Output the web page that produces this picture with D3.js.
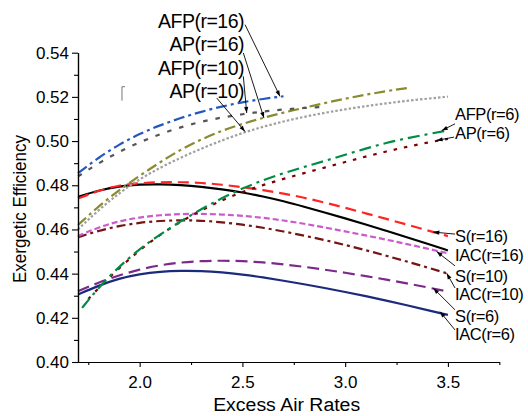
<!DOCTYPE html>
<html><head><meta charset="utf-8">
<script src="https://cdn.jsdelivr.net/npm/d3@7"></script>
<style>body{margin:0;background:#fff}svg{display:block}text{font-family:"Liberation Sans",Arial,sans-serif;fill:#000}</style>
</head><body><svg id="c" width="528" height="416"></svg>
<script>
// ---- data ----
const xTo27 = [1.7,1.8,1.9,2.0,2.1,2.2,2.3,2.4,2.5,2.6,2.7];
const xTo29 = [1.7,1.8,1.9,2.0,2.1,2.2,2.3,2.4,2.5,2.6,2.7,2.8,2.9];
const xTo33 = [1.7,1.8,1.9,2.0,2.1,2.2,2.3,2.4,2.5,2.6,2.7,2.8,2.9,3.0,3.1,3.2,3.3];
const xTo35 = [1.7,1.8,1.9,2.0,2.1,2.2,2.3,2.4,2.5,2.6,2.7,2.8,2.9,3.0,3.1,3.2,3.3,3.4,3.5];
const xAFP6 = [1.72,1.8,1.9,2.0,2.1,2.2,2.3,2.4,2.5,2.6,2.7,2.8,2.9,3.0,3.1,3.2,3.3,3.4,3.5];
const xAP6  = [1.75,1.8,1.9,2.0,2.1,2.2,2.3,2.4,2.5,2.6,2.7,2.8,2.9,3.0,3.1,3.2,3.3,3.4,3.5];

const afp16 = [0.4855,0.4925,0.4985,0.5033,0.5072,0.5105,0.5133,0.5157,0.5176,0.5191,0.5203];
const ap16  = [0.484,0.490,0.4952,0.4995,0.5032,0.5063,0.5088,0.5107,0.5122,0.5134,0.5143,0.5150,0.5155];
const afp10 = [0.462,0.4705,0.4778,0.4843,0.4905,0.4962,0.5008,0.5047,0.5078,0.5105,0.5129,0.5151,0.5172,0.5192,0.5210,0.5226,0.5240];
const ap10  = [0.460,0.4688,0.4765,0.4828,0.4880,0.4925,0.4966,0.5003,0.5037,0.5065,0.5089,0.5110,0.5128,0.5144,0.5158,0.5171,0.5182,0.5192,0.5201];
const afp6  = [0.4245,0.4337,0.4432,0.4512,0.4578,0.4637,0.4692,0.4742,0.4786,0.4823,0.4855,0.4883,0.4910,0.4938,0.4966,0.4992,0.5013,0.5031,0.5048];
const ap6   = [0.4285,0.4335,0.4425,0.4507,0.4577,0.4636,0.4687,0.4732,0.4770,0.4801,0.4829,0.4855,0.4880,0.4905,0.4930,0.4953,0.4974,0.4993,0.5010];
const s16   = [0.474,0.4776,0.4800,0.4810,0.4814,0.4814,0.4811,0.4803,0.4791,0.4778,0.4763,0.4744,0.4722,0.4698,0.4673,0.4648,0.4622,0.4596,0.4570];
const iac16 = [0.4748,0.4777,0.4796,0.4804,0.4805,0.4801,0.4793,0.4782,0.4768,0.4750,0.4728,0.4703,0.4677,0.4650,0.4623,0.4594,0.4565,0.4535,0.4505];
const s10   = [0.457,0.4610,0.4638,0.4655,0.4665,0.4670,0.4671,0.4668,0.4662,0.4653,0.4641,0.4626,0.4609,0.4591,0.4573,0.4554,0.4534,0.4513,0.4492];
const iac10 = [0.4565,0.4594,0.4616,0.4631,0.4639,0.4642,0.4640,0.4633,0.4622,0.4608,0.4591,0.4572,0.4552,0.4530,0.4506,0.4481,0.4455,0.4428,0.4400];
const s6    = [0.432,0.4360,0.4393,0.4419,0.4439,0.4451,0.4457,0.4459,0.4457,0.4451,0.4442,0.4431,0.4418,0.4404,0.4389,0.4373,0.4356,0.4338,0.4319];
const iac6  = [0.4305,0.4346,0.4378,0.4398,0.4409,0.4413,0.4412,0.4406,0.4396,0.4383,0.4368,0.4352,0.4335,0.4317,0.4298,0.4278,0.4257,0.4235,0.4213];

const xTicks = [2.0,2.5,3.0,3.5];
const xMinor = [1.75,2.25,2.75,3.25,3.75];
const yTicks = [0.40,0.42,0.44,0.46,0.48,0.50,0.52,0.54];
const yMinor = [0.41,0.43,0.45,0.47,0.49,0.51,0.53];

// ---- layout ----
const W = 528, H = 416;
const M = {left:78, right:28.7, top:52.7, bottom:54};
const svg = d3.select('#c');
const x = d3.scaleLinear().domain([1.7,3.75]).range([M.left, W-M.right]);
const y = d3.scaleLinear().domain([0.40,0.54]).range([H-M.bottom, M.top]);

const series = [
  {xs:xTo35, ys:iac6,  color:'#1b2a7c', dash:null},
  {xs:xTo35, ys:s6,    color:'#7b2a8a', dash:'12,6'},
  {xs:xTo35, ys:iac10, color:'#741414', dash:'9,4,3,4'},
  {xs:xTo35, ys:s10,   color:'#cc5acc', dash:'6,3'},
  {xs:xTo35, ys:iac16, color:'#000000', dash:null},
  {xs:xTo35, ys:s16,   color:'#ff2424', dash:'11,6'},
  {xs:xAP6,  ys:ap6,   color:'#800000', dash:'3.5,7'},
  {xs:xAFP6, ys:afp6,  color:'#008c45', dash:'12,5,3,5'},
  {xs:xTo35, ys:ap10,  color:'#a0a0a0', dash:'2.5,2'},
  {xs:xTo33, ys:afp10, color:'#8a8a2e', dash:'11,4,3,4'},
  {xs:xTo29, ys:ap16,  color:'#555555', dash:'4.5,8'},
  {xs:xTo27, ys:afp16, color:'#2458bf', dash:'11,4,3,4'}
];

const line = d3.line().x(d=>x(d[0])).y(d=>y(d[1])).curve(d3.curveBasis);
svg.append('g').selectAll('path').data(series).join('path')
  .attr('d', s => line(s.xs.map((v,i)=>[v, s.ys[i]])))
  .attr('fill','none').attr('stroke', s=>s.color).attr('stroke-width',2.2)
  .attr('stroke-dasharray', s=>s.dash);

// ---- axes ----
const gx = svg.append('g').attr('transform',`translate(0,${H-M.bottom})`);
gx.call(d3.axisBottom(x).tickValues(xTicks).tickFormat(d3.format('.1f')).tickSize(5).tickSizeOuter(0));
gx.append('g').call(d3.axisBottom(x).tickValues(xMinor).tickFormat('').tickSize(3).tickSizeOuter(0));
const gy = svg.append('g').attr('transform',`translate(${M.left},0)`);
gy.call(d3.axisLeft(y).tickValues(yTicks).tickFormat(d3.format('.2f')).tickSize(6).tickSizeOuter(0));
gy.append('g').call(d3.axisLeft(y).tickValues(yMinor).tickFormat('').tickSize(4).tickSizeOuter(0));
svg.selectAll('.domain').attr('stroke','#000').attr('stroke-width',1.2);
svg.selectAll('.tick line').attr('stroke','#000').attr('stroke-width',1.1);
gx.selectAll('.tick text').attr('font-size',17).attr('font-family','"Liberation Sans",Arial,sans-serif').attr('dy','1.05em').attr('fill','#000');
gy.selectAll('.tick text').attr('font-size',17).attr('font-family','"Liberation Sans",Arial,sans-serif').attr('x',-9).attr('fill','#000');

svg.append('text').attr('x',(M.left+W-M.right)/2 - 2).attr('y',411).attr('text-anchor','middle')
  .attr('font-size',18).attr('textLength',147).attr('lengthAdjust','spacingAndGlyphs').text('Excess Air Rates');
svg.append('text').attr('transform',`translate(26,209) rotate(-90)`).attr('text-anchor','middle')
  .attr('font-size',19).attr('textLength',148).attr('lengthAdjust','spacingAndGlyphs').text('Exergetic Efficiency');

// ---- annotations ----
const defs = svg.append('defs');
defs.append('marker').attr('id','ah').attr('viewBox','0 0 10 10').attr('refX',10).attr('refY',5)
  .attr('markerWidth',7).attr('markerHeight',6).attr('markerUnits','userSpaceOnUse').attr('orient','auto')
  .append('path').attr('d','M0,1.5L10,5L0,8.5Z').attr('fill','#000');

const topLabels = [
  {t:'AFP(r=16)', lx:2.508, ly:0.5513, fx:2.5127, fy:0.5527, tx:2.683, ty:0.5202},
  {t:'AP(r=16)',  lx:2.508, ly:0.5407, fx:2.5044, fy:0.5399, tx:2.605, ty:0.5104},
  {t:'AFP(r=10)', lx:2.508, ly:0.5300, fx:2.5044, fy:0.5293, tx:2.521, ty:0.5127},
  {t:'AP(r=10)',  lx:2.508, ly:0.5195, fx:2.375,  fy:0.5195, tx:2.5127, ty:0.5043}
];
const rightLabels = [
  {t:'AFP(r=6)',  ly:0.5097, fx:3.5346, fy:0.5078, tx:3.470, ty:0.5048},
  {t:'AP(r=6)',   ly:0.5010, fx:3.5300, fy:0.5018, tx:3.445, ty:0.5003},
  {t:'S(r=16)',   ly:0.4545, fx:3.5346, fy:0.4579, tx:3.429, ty:0.4588},
  {t:'IAC(r=16)', ly:0.4459, fx:null},
  {t:'S(r=10)',   ly:0.4364, fx:3.5346, fy:0.4435, tx:3.445, ty:0.4500},
  {t:'IAC(r=10)', ly:0.4281, fx:3.5346, fy:0.4335, tx:3.494, ty:0.4402},
  {t:'S(r=6)',    ly:0.4183, fx:3.5346, fy:0.4236, tx:3.429, ty:0.4334},
  {t:'IAC(r=6)',  ly:0.4100, fx:3.5346, fy:0.4145, tx:3.4615, ty:0.4228}
];
const ag = svg.append('g');
[...topLabels, ...rightLabels].filter(d=>d.fx!=null).forEach(d=>{
  ag.append('line').attr('x1',x(d.fx)).attr('y1',y(d.fy)).attr('x2',x(d.tx)).attr('y2',y(d.ty))
    .attr('stroke','#000').attr('stroke-width',0.9).attr('marker-end','url(#ah)');
});
ag.selectAll('text.tl').data(topLabels).join('text').attr('class','tl')
  .attr('x',d=>x(d.lx)).attr('y',d=>y(d.ly)).attr('text-anchor','end').attr('font-size',19.5)
  .attr('letter-spacing',-0.5).text(d=>d.t);
ag.selectAll('text.rl').data(rightLabels).join('text').attr('class','rl')
  .attr('x',x(3.5346)).attr('y',d=>y(d.ly)).attr('text-anchor','start').attr('font-size',16.5)
  .attr('letter-spacing',-0.4).text(d=>d.t);

// small stray glyph near top-left
ag.append('path').attr('d',`M${x(1.914)},${y(0.5183)}V${y(0.5246)}h3`).attr('fill','none')
  .attr('stroke','#777').attr('stroke-width',1);
</script></body></html>
